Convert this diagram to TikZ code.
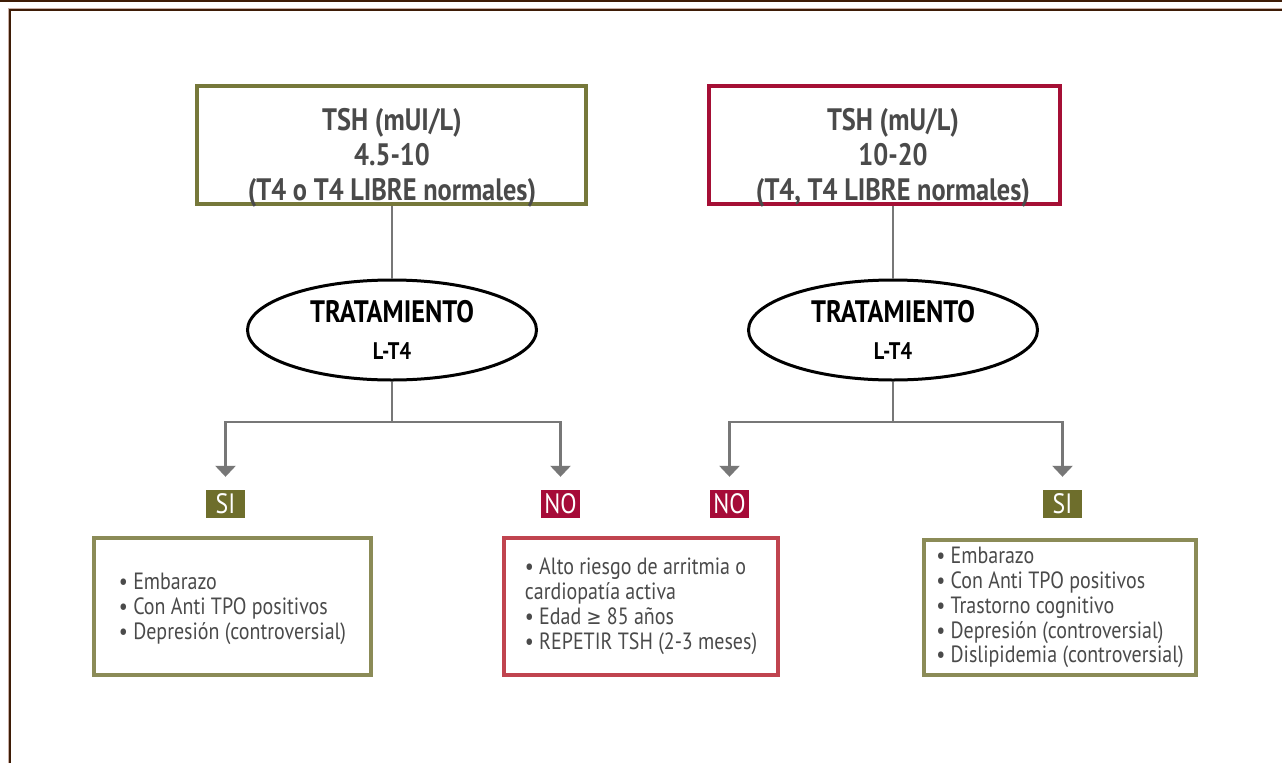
\documentclass[tikz,border=0pt]{standalone}
\usepackage{fontspec}
\setmainfont{PT Sans}[FakeStretch=0.85]
\newfontfamily\symfont{DejaVu Sans}[FakeStretch=0.85]
\usetikzlibrary{arrows.meta,shapes.geometric,calc}
\definecolor{olivetop}{HTML}{76783A}
\definecolor{olivelab}{HTML}{6E6E2C}
\definecolor{olivebot}{HTML}{8B8B57}
\definecolor{redtop}{HTML}{A50F35}
\definecolor{redlab}{HTML}{A60B38}
\definecolor{redbot}{HTML}{C0444F}
\definecolor{connc}{HTML}{777777}
\definecolor{txtc}{HTML}{4A4A4A}
\definecolor{framedark}{HTML}{3E1C06}
\definecolor{frameshade}{HTML}{C9AFA6}
\begin{document}
\begin{tikzpicture}[x=1pt,y=-1pt,
  topbox/.style={draw, line width=3.5pt, rectangle, inner sep=0pt},
  toptext/.style={align=center, text=txtc, font=\bfseries\fontsize{31}{35}\selectfont, inner sep=0pt},
  treat/.style={draw=black, line width=3pt, ellipse, inner sep=0pt, minimum width=289pt, minimum height=100pt, align=center, font=\bfseries\fontsize{31}{37}\selectfont},
  lab/.style={rectangle, inner sep=0pt, minimum width=39pt, minimum height=28pt, text=white, font=\fontsize{28}{28}\selectfont},
  botbox/.style={draw, line width=4pt, rectangle, inner sep=0pt, align=left, text=txtc, font=\fontsize{23.5}{24.9}\selectfont},
  bottext/.style={inner sep=0pt, align=left, text=txtc, font=\fontsize{23.5}{24.9}\selectfont},
  conn/.style={draw=connc, line width=2.7pt},
  arr/.style={conn, -{Triangle[width=20pt,length=11pt]}}
]
\useasboundingbox (0,0) rectangle (1282,763);
\fill[white] (0,0) rectangle (1282,763);
% frame
\draw[framedark, line width=2pt] (0,1) -- (1282,1);
\draw[frameshade, line width=3pt] (9,763) -- (9,9) -- (1282,9);
\draw[framedark, line width=1.5pt] (9.8,763) -- (9.8,9.8) -- (1282,9.8);

% top boxes
\node[topbox, draw=olivetop, minimum width=389pt, minimum height=118pt] (t1) at (391.5,145) {};
\node[toptext] (t1txt) at (392,158) {TSH (mUI/L)\\4.5-10\\(T4 o T4 LIBRE normales)};
\node[topbox, draw=redtop, minimum width=351pt, minimum height=118pt] (t2) at (884.5,145) {};
\node[toptext] (t2txt) at (893,158) {TSH (mU/L)\\10-20\\(T4, T4 LIBRE normales)};

% ellipses
\node[treat] (e1) at (392,330) {TRATAMIENTO\\{\fontsize{24}{37}\selectfont L-T4}};
\node[treat] (e2) at (893,330) {TRATAMIENTO\\{\fontsize{24}{37}\selectfont L-T4}};

\draw[conn] (t1.south -| e1.north) -- (e1.north);
\draw[conn] (t2.south -| e2.north) -- (e2.north);

% labels
\node[lab, fill=olivelab] (si1) at (225.5,504) {SI};
\node[lab, fill=redlab] (no1) at (560.5,504) {NO};
\node[lab, fill=redlab] (no2) at (729.5,504) {NO};
\node[lab, fill=olivelab] (si2) at (1062.5,504) {SI};

% branches
\coordinate (b1) at (392,422);
\coordinate (b2) at (893,422);
\draw[conn] (e1.south) -- (b1);
\draw[conn] (e2.south) -- (b2);
\draw[arr] (b1) -| ([yshift=13pt]si1.north);
\draw[arr] (b1) -| ([yshift=13pt]no1.north);
\draw[arr] (b2) -| ([yshift=13pt]no2.north);
\draw[arr] (b2) -| ([yshift=13pt]si2.north);

% bottom boxes
\node[botbox, draw=olivebot, minimum width=277pt, minimum height=137pt] (r1) at (232.5,606.5) {};
\node[bottext] (r1txt) at (232.5,609)
 {• Embarazo\\• Con Anti TPO positivos\\• Depresión (controversial)};
\node[botbox, draw=redbot, minimum width=274pt, minimum height=137pt] (r2) at (641,606.5)
 {• Alto riesgo de arritmia o\\cardiopatía activa\\• Edad {\symfont\fontsize{21}{24.9}\selectfont ≥} 85 años\\• REPETIR TSH (2-3 meses)};
\node[botbox, draw=olivebot, minimum width=272pt, minimum height=135pt] (r3) at (1060,607.5)
 {• Embarazo\\• Con Anti TPO positivos\\• Trastorno cognitivo\\• Depresión (controversial)\\• Dislipidemia (controversial)};
\end{tikzpicture}
\end{document}
